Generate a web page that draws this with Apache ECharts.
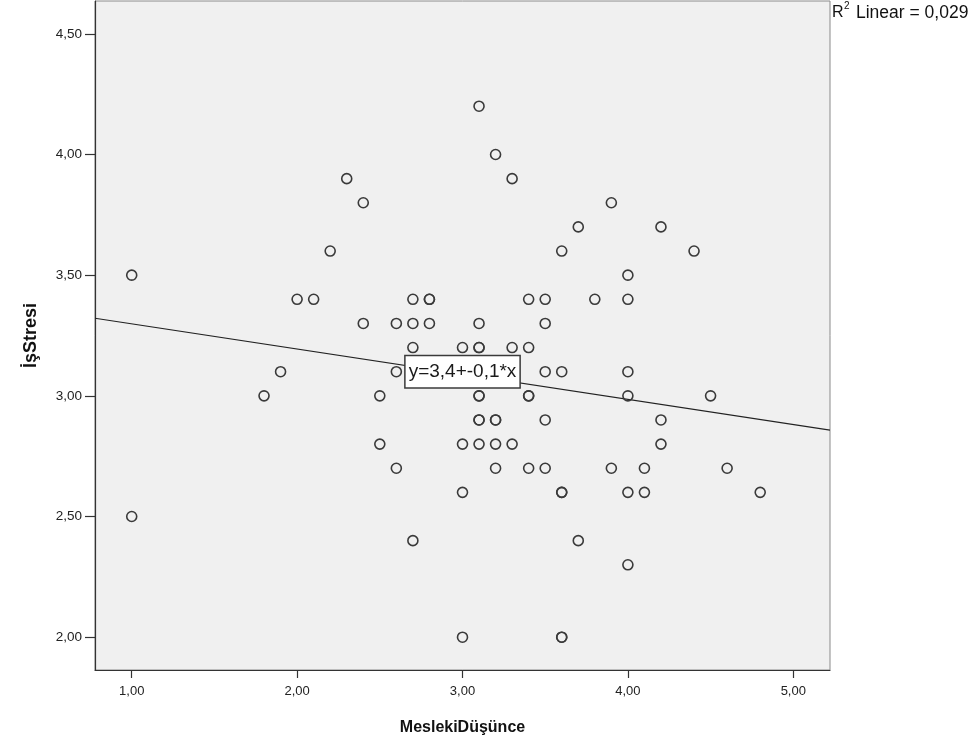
<!DOCTYPE html>
<html><head><meta charset="utf-8">
<script src="https://cdn.jsdelivr.net/npm/echarts@6/dist/echarts.min.js"></script>
<style>html,body{margin:0;padding:0;background:#fff}#c{width:973px;height:749px}</style>
</head><body><div id="c"></div>
<script>
const meslekiDusunce = [1.0,1.0,1.8,1.9,2.0,2.1,2.2,2.3,2.4,2.4,2.5,2.5,2.6,2.6,2.6,2.7,2.7,2.7,2.7,2.8,2.8,2.8,
  3.0,3.0,3.0,3.0, 3.1,3.1,3.1,3.1,3.1,3.1,3.1,3.1,3.1, 3.2,3.2,3.2,3.2,3.2, 3.3,3.3,3.3,
  3.4,3.4,3.4,3.4,3.4, 3.5,3.5,3.5,3.5,3.5, 3.6,3.6,3.6,3.6,3.6,3.6, 3.7,3.7, 3.8, 3.9,3.9,
  4.0,4.0,4.0,4.0,4.0,4.0, 4.1,4.1, 4.2,4.2,4.2, 4.4, 4.5, 4.6, 4.8];
const isStresi = [3.5,2.5,3.0,3.1,3.4,3.4,3.6,3.9,3.8,3.3,3.0,2.8,3.3,3.1,2.7,3.4,3.3,3.2,2.4,3.4,3.4,3.3,
  3.2,2.8,2.6,2.0, 4.2,3.3,3.2,3.2,3.0,3.0,2.9,2.9,2.8, 4.0,2.9,2.9,2.8,2.7, 3.9,3.2,2.8,
  3.4,3.2,3.0,3.0,2.7, 3.4,3.3,3.1,2.9,2.7, 3.6,3.1,2.6,2.6,2.0,2.0, 3.7,2.4, 3.4, 3.8,2.7,
  3.5,3.4,3.1,3.0,2.6,2.3, 2.7,2.6, 3.7,2.9,2.8, 3.6, 3.0, 2.7, 2.6];
const xTicks = [1, 2, 3, 4, 5];
const yTicks = [2, 2.5, 3, 3.5, 4, 4.5];
const xRange = [0.778, 5.222];
const yRange = [1.864, 4.636];
const fitCoef = [3.403, -0.1044]; // intercept, slope
const fitLabel = 'y=3,4+-0,1*x';
const fitLabelAt = [3.0, 3.1];
const r2Value = '0,029';

const fmt = v => v.toFixed(2).replace('.', ',');
const points = meslekiDusunce.map((x, i) => [x, isStresi[i]]);
const fitLine = xRange.map(x => [x, fitCoef[0] + fitCoef[1] * x]);
const FONT = '"Liberation Sans", Arial, sans-serif';

const chart = echarts.init(document.getElementById('c'), null, {renderer: 'canvas'});
chart.setOption({
  animation: false,
  backgroundColor: '#ffffff',
  grid: {left: 95, right: 143, top: 1, bottom: 79, show: true,
    backgroundColor: '#f0f0f0', borderColor: '#8a8a8a', borderWidth: 1},
  xAxis: {
    type: 'value', min: xRange[0], max: xRange[1],
    name: 'MeslekiDüşünce', nameLocation: 'middle', nameGap: 50,
    nameTextStyle: {fontFamily: FONT, fontSize: 16, fontWeight: 'bold', color: '#111'},
    axisLine: {show: true, onZero: false, lineStyle: {color: '#333', width: 1.2}},
    axisTick: {show: true, length: 8, customValues: xTicks, lineStyle: {color: '#333', width: 1.2}},
    axisLabel: {customValues: xTicks, formatter: fmt, margin: 15,
      fontFamily: FONT, fontSize: 13, color: '#222'},
    splitLine: {show: false}
  },
  yAxis: {
    type: 'value', min: yRange[0], max: yRange[1],
    name: 'İşStresi', nameLocation: 'middle', nameGap: 55,
    nameTextStyle: {fontFamily: FONT, fontSize: 18, fontWeight: 'bold', color: '#111'},
    axisLine: {show: true, onZero: false, lineStyle: {color: '#333', width: 1.2}},
    axisTick: {show: true, length: 10, customValues: yTicks, lineStyle: {color: '#333', width: 1.2}},
    axisLabel: {customValues: yTicks, formatter: fmt, margin: 13,
      fontFamily: FONT, fontSize: 13.5, color: '#222'},
    splitLine: {show: false}
  },
  series: [
    {
      type: 'line', data: fitLine, symbol: 'none', silent: true, z: 2,
      lineStyle: {color: '#222', width: 1.1}
    },
    {
      type: 'scatter', data: points, symbol: 'circle', symbolSize: 10, z: 3,
      itemStyle: {color: 'rgba(0,0,0,0)', borderColor: '#3a3a3a', borderWidth: 1.6, opacity: 1}
    }
  ]
});

const lp = chart.convertToPixel({gridIndex: 0}, fitLabelAt);
chart.setOption({
  graphic: [
    {type: 'text', left: 832, top: 5, z: 100, silent: true,
      style: {text: 'R', font: '16px ' + FONT, fill: '#111'}},
    {type: 'text', left: 844, top: 1, z: 100, silent: true,
      style: {text: '2', font: '10px ' + FONT, fill: '#111'}},
    {type: 'text', left: 856, top: 4, z: 100, silent: true,
      style: {text: 'Linear = ' + r2Value, font: '17.5px ' + FONT, fill: '#111'}},
    {type: 'text', x: lp[0], y: lp[1], z: 100, silent: true,
      style: {text: fitLabel, font: '19px ' + FONT, fill: '#1a1a1a',
        align: 'center', verticalAlign: 'middle',
        backgroundColor: '#ffffff', borderColor: '#3a3a3a', borderWidth: 1.5,
        padding: [6, 3, 6, 3]}}
  ]
});
</script>
</body></html>
